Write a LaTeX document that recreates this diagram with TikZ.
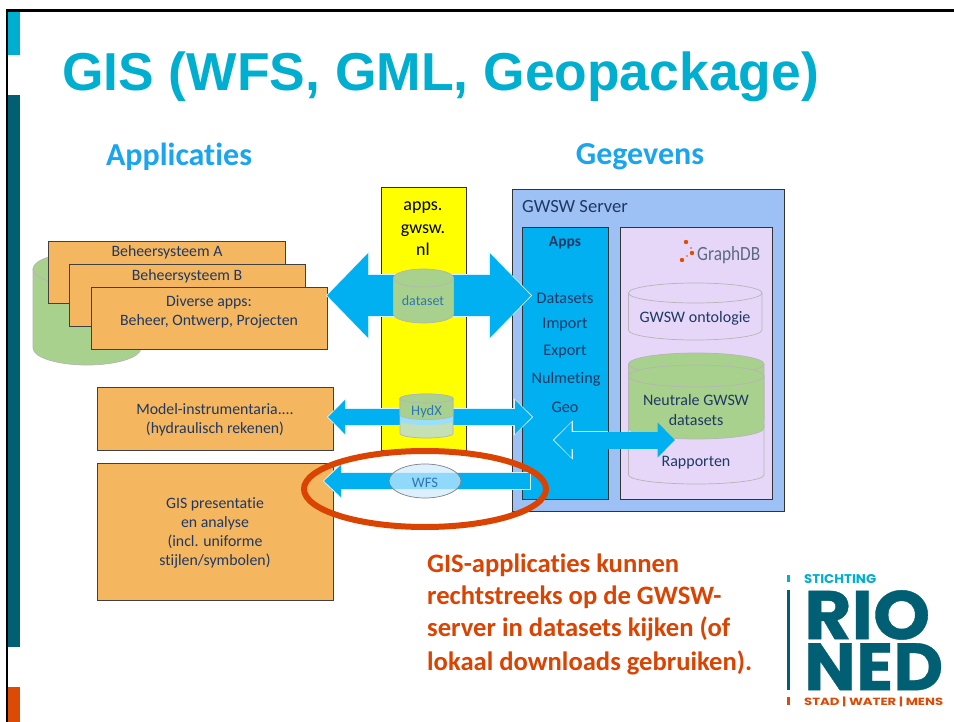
\documentclass[tikz,border=0pt]{standalone}
\usepackage{fontspec}
\setmainfont[Ligatures=NoCommon]{Carlito}
\newfontfamily\titlefont{Liberation Sans}
\newfontfamily\logofont{Poppins}
\newfontfamily\logoheavy[FakeBold=0.5]{Poppins Bold}
\usetikzlibrary{arrows.meta}
\definecolor{navy}{HTML}{1F3864}
\definecolor{yel}{rgb}{1,1,0}
\definecolor{cyanbar}{HTML}{00AECF}
\definecolor{tealbar}{HTML}{005F72}
\definecolor{orangebar}{HTML}{DC4A05}
\definecolor{boxor}{HTML}{F4B65E}
\definecolor{arrowblue}{HTML}{00B0F0}
\definecolor{headblue}{HTML}{1AA5EE}
\definecolor{midblue}{HTML}{2E75B6}
\definecolor{serverblue}{HTML}{9DC0F5}
\definecolor{lilac}{HTML}{E6D7F9}
\definecolor{cylgreen}{HTML}{A9D18E}
\definecolor{cyllight}{HTML}{C5E0B4}
\definecolor{cyledge}{HTML}{B5B5B5}
\definecolor{reddish}{HTML}{DA4302}
\definecolor{graphgrey}{HTML}{5A6B80}
\definecolor{wfsfill}{HTML}{CFEBFF}
\colorlet{halo}{white!85!arrowblue}
\tikzset{
  appbox/.style={draw=black!75,line width=.8pt,fill=boxor,anchor=north west,inner sep=0pt},
  boxtext/.style={text=navy,align=center,font=\fontsize{15.8}{19}\selectfont,inner sep=0pt},
  panel/.style={draw=black!80,line width=.8pt,anchor=north west,inner sep=0pt},
  lab/.style={text=navy,font=\fontsize{16.2}{18}\selectfont,inner sep=0pt},
  cyllab/.style={text=navy,align=center,font=\fontsize{16}{20}\selectfont,inner sep=0pt},
  cyltext/.style={text=midblue,inner sep=0pt},
  heading/.style={text=headblue,font=\fontsize{32}{34}\bfseries\selectfont,inner sep=0pt},
  redline/.style={text=reddish,font=\fontsize{26.6}{32}\bfseries\selectfont,inner sep=0pt,anchor=base west},
}
% \cyl{x1}{x2}{ytop}{ybot}{ry}{fill}{edge}
\newcommand{\cyl}[7]{%
  \path[fill=#6,draw=#7,line width=.7pt] (#1,#3) -- (#1,#4) arc[start angle=180,end angle=360,x radius={(#2-#1)/2},y radius=-#5] -- (#2,#3) -- cycle;
  \path[fill=#6,draw=#7,line width=.7pt] ({(#1+#2)/2},#3) ellipse [x radius={(#2-#1)/2},y radius=#5];
}
\newcommand{\blockhalo}[5]{%
  \draw[halo,line width=#3+1.6pt,{Triangle[length=#4+2.6pt,width=#5+4pt]}-{Triangle[length=#4+2.6pt,width=#5+4pt]},shorten <=-1.2pt,shorten >=-1.2pt] (#1) -- (#2);
}
\newcommand{\blockfill}[5]{%
  \draw[arrowblue,line width=#3,{Triangle[length=#4,width=#5]}-{Triangle[length=#4,width=#5]}] (#1) -- (#2);
}
\begin{document}
\begin{tikzpicture}[x=1pt,y=-1pt]
\useasboundingbox (0,0) rectangle (954,722);
\fill[white] (0,0) rectangle (954,722);
% slide frame and side bars
\fill[cyanbar] (8,11) rectangle (20,55);
\fill[tealbar] (8,95) rectangle (20,647);
\fill[orangebar] (8,687) rectangle (20,722);
\draw[black,line width=2.2pt] (7,722) -- (7,10.5) -- (954,10.5);
% headings
\node[anchor=base west,inner sep=0pt,text=cyanbar,font=\titlefont\fontsize{53.4}{56}\bfseries\selectfont] (title) at (62,90.5) {GIS (WFS, GML, Geopackage)};
\node[heading] (happ) at (179,157) {Applicaties};
\node[heading] (hgeg) at (640,157) {Gegevens};
% left cylinder and system boxes
\cyl{33}{141}{269}{348}{17}{cylgreen}{cyledge}
\node[appbox,minimum width=237pt,minimum height=62pt] (bsa) at (48,241) {};
\node[boxtext] (bsat) at (167,252.5) {Beheersysteem A};
\node[appbox,minimum width=236pt,minimum height=62pt] (bsb) at (69,264) {};
\node[boxtext] (bsbt) at (187,276.5) {Beheersysteem B};
\node[appbox,minimum width=236pt,minimum height=62pt] (div) at (91,287) {};
\node[boxtext,anchor=north] (divt) at (209,295) {Diverse apps:\\Beheer, Ontwerp, Projecten};
\node[appbox,minimum width=236pt,minimum height=63pt] (model) at (97,387) {};
\node[boxtext] (modelt) at (215,420) {Model-instrumentaria....\\(hydraulisch rekenen)};
\node[appbox,minimum width=236pt,minimum height=137pt] (gis) at (97,463) {};
\node[boxtext] (gist) at (215,533) {GIS presentatie\\en analyse\\(incl. uniforme\\stijlen/symbolen)};
% yellow column
\node[panel,fill=yel,minimum width=85pt,minimum height=263pt] (apps) at (381,187) {};
\node[text=black,align=center,font=\fontsize{18}{22.5}\selectfont,inner sep=0pt,anchor=north] (appst) at (423,202) {apps.\\gwsw.\\nl};
% server
\node[panel,fill=serverblue,minimum width=272pt,minimum height=322pt] (server) at (512,189) {};
\node[anchor=west,text=navy,font=\fontsize{18.6}{20}\selectfont,inner sep=0pt] (servert) at (522,207) {GWSW Server};
\node[panel,fill=arrowblue,minimum width=86pt,minimum height=272pt] (appcol) at (522,227) {};
\node[panel,fill=lilac,minimum width=152pt,minimum height=272pt] (gdb) at (620,227) {};
\node[lab,font=\fontsize{15.5}{17}\bfseries\selectfont] (tapps) at (565,243) {Apps};
\node[lab] (t1) at (565,298) {Datasets};
\node[lab] (t2) at (565,325) {Import};
\node[lab] (t3) at (565,352) {Export};
\node[lab] (t4) at (566,379) {Nulmeting};
\node[lab] (t5) at (565,407) {Geo};
% GraphDB logo
\fill[reddish!85!orange] (686,242) circle (2.2) (692,253) circle (2.2) (682,260) circle (2.2);
\fill[reddish!85!orange] (691,248) circle (.9) (687,256) circle (.9);
\node[anchor=base west,inner sep=0pt,text=graphgrey] (gdbt) at (697,260.5) {\resizebox{63pt}{14pt}{\fontsize{22}{24}\selectfont GraphDB}};
% server cylinders
\cyl{628.5}{762}{293}{330}{10}{lilac}{cyledge}
\node[cyllab] (onto) at (695,318) {GWSW ontologie};
\cyl{628.5}{764}{425}{475}{9}{lilac}{cyledge}
\node[cyllab] (rap) at (696,462.5) {Rapporten};
\cyl{628.5}{764}{364}{420}{11}{cylgreen}{cyledge}
\cyl{628.5}{764}{376}{428}{11}{cylgreen}{cyledge}
\node[cyllab] (neu) at (696,410) {Neutrale GWSW\\datasets};
% block connectors
\coordinate (bigL) at (327,295.5);
\coordinate (bigR) at (531,295.5);
\blockhalo{bigL}{bigR}{41pt}{41pt}{82pt}
\blockfill{bigL}{bigR}{41pt}{41pt}{82pt}
\coordinate (hyL) at (328,417);
\coordinate (hyR) at (532,417);
\blockhalo{hyL}{hyR}{16pt}{17pt}{33pt}
\blockfill{hyL}{hyR}{16pt}{17pt}{33pt}
\coordinate (inL) at (554,440);
\coordinate (inR) at (675,440);
\begin{scope}
\clip (540,415) rectangle (608,465);
\blockhalo{inL}{inR}{17pt}{17.5pt}{34pt}
\end{scope}
\blockfill{inL}{inR}{17pt}{17.5pt}{34pt}
\coordinate (wfL) at (324,481);
\coordinate (wfR) at (530,481);
\draw[halo,line width=18pt,-{Triangle[length=18.5pt,width=35pt]},shorten >=-1.2pt] ([xshift=.8pt]wfR) -- (wfL);
\draw[arrowblue,line width=16.5pt,-{Triangle[length=17pt,width=31pt]}] (wfR) -- (wfL);
% cylinders on the column
\cyl{393.5}{453.5}{278}{314}{9}{cylgreen}{cyledge}
\node[cyltext,font=\fontsize{14}{16}\selectfont] (ds) at (423,301) {dataset};
\cyl{400}{453}{398.5}{433.5}{4.5}{cyllight}{cyledge}
\fill[arrowblue!40!white] (400,415) -- (400,421) arc[start angle=180,end angle=360,x radius=26.5,y radius=-4] -- (453,415) -- cycle;
\cyl{400}{453}{398.5}{415}{4.5}{cylgreen}{cyledge}
\node[cyltext,font=\fontsize{14.5}{16}\selectfont] (hyd) at (426.5,412) {HydX};
\path[fill=wfsfill,fill opacity=.7,draw=gray,draw opacity=1,line width=.7pt] (425,481) ellipse [x radius=36,y radius=17];
\node[cyltext,font=\fontsize{14.5}{16}\selectfont] (wfs) at (425,482.5) {WFS};
% highlight
\draw[reddish,line width=6pt] (425,489) ellipse [x radius=121,y radius=38];
% red text
\node[redline] (r1) at (427,572) {GIS-applicaties kunnen};
\node[redline] (r2) at (427,604) {rechtstreeks op de GWSW-};
\node[redline] (r3) at (427,636) {server in datasets kijken (of};
\node[redline] (r4) at (427,670) {lokaal downloads gebruiken).};
% logo
\fill[cyanbar] (787,575) rectangle (790,582);
\fill[tealbar] (787,590) rectangle (790,690);
\fill[orangebar] (787,697) rectangle (790,705);
\node[anchor=north west,inner sep=0pt,text=cyanbar] (lg1) at (804,574) {\resizebox{72pt}{9pt}{\logofont\bfseries STICHTING}};
\node[anchor=north west,inner sep=0pt,text=tealbar] (lg2) at (804,590) {\resizebox{126pt}{49pt}{\logoheavy RIO}};
\node[anchor=north west,inner sep=0pt,text=tealbar] (lg3) at (804,643) {\resizebox{139pt}{47pt}{\logoheavy NED}};
\node[anchor=north west,inner sep=0pt,text=orangebar] (lg4) at (804,697) {\resizebox{139pt}{8.5pt}{\logofont\bfseries STAD | WATER | MENS}};
\end{tikzpicture}
\end{document}
